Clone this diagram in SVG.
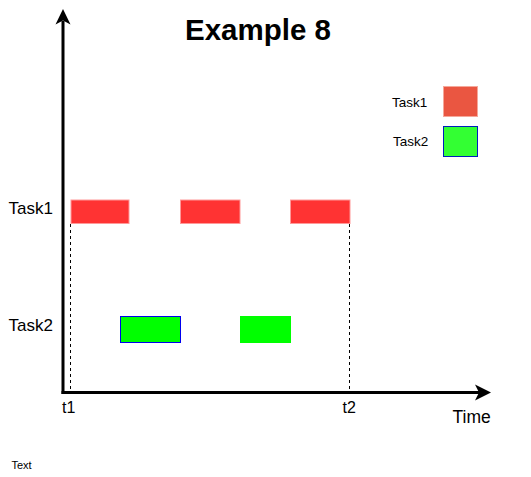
<svg xmlns="http://www.w3.org/2000/svg" width="531" height="477" viewBox="0 0 531 477">
<style>
text{font-family:"Liberation Sans",Arial,sans-serif;fill:#000}
.red{fill:#FF3333;stroke:#FF9999;stroke-width:1}
.green{fill:#00FF00}
.dash{stroke:#000;stroke-width:1;stroke-dasharray:3 3;fill:none}
.axis{stroke:#000;stroke-width:3;fill:none}
</style>
<rect width="531" height="477" fill="#fff"/>
<g id="connectors">
<path class="axis" d="M63 394 V21"/>
<polygon points="63,9 55.5,24.5 63,20.5 70.5,24.5" fill="#000"/>
<path class="axis" d="M61.5 392.5 H479"/>
<polygon points="491,392.5 475,384.5 479,392.5 475,400.5" fill="#000"/>
<path class="dash" d="M70.5 224 V391"/>
<path class="dash" d="M349.5 224 V391"/>
</g>
<g id="title"><text x="258" y="39.5" font-size="29.5" font-weight="bold" text-anchor="middle">Example 8</text></g>
<g id="label-task1"><text x="8.5" y="214" font-size="17">Task1</text></g>
<g id="label-task2"><text x="8.5" y="331" font-size="17">Task2</text></g>
<g id="label-t1"><text x="62" y="412.5" font-size="16">t1</text></g>
<g id="label-t2"><text x="342.5" y="412.5" font-size="16">t2</text></g>
<g id="label-time"><text x="452.5" y="422.5" font-size="17.5">Time</text></g>
<g id="label-text"><text x="11.5" y="468.5" font-size="11">Text</text></g>
<g id="task1-bar1"><rect class="red" x="71" y="200" width="58" height="23.5"/></g>
<g id="task1-bar2"><rect class="red" x="180.5" y="200" width="59.5" height="23.5"/></g>
<g id="task1-bar3"><rect class="red" x="290.5" y="200" width="59.5" height="23.5"/></g>
<g id="task2-bar1"><rect class="green" x="120.5" y="316.5" width="60" height="26" stroke="#0000EE" stroke-width="1"/></g>
<g id="task2-bar2"><rect class="green" x="240" y="316" width="51" height="27"/></g>
<g id="legend-task1">
<text x="392" y="106.5" font-size="13.5">Task1</text>
<rect x="443.5" y="86.5" width="34" height="30" fill="#EA5641" stroke="#F5A89A" stroke-width="1"/>
</g>
<g id="legend-task2">
<text x="393" y="146" font-size="13.5">Task2</text>
<rect x="443.5" y="126.5" width="34" height="30" fill="#33FF33" stroke="#001DBC" stroke-width="1"/>
</g>
</svg>
